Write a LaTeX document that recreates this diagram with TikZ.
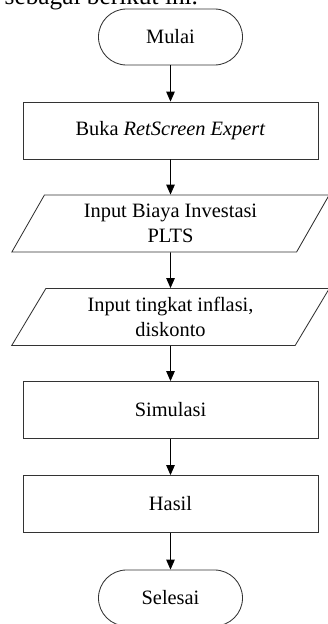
\documentclass[tikz,border=0pt]{standalone}
\usepackage{fontspec}
\setmainfont{Liberation Serif}
\usetikzlibrary{shapes.geometric,arrows.meta}
\tikzset{
  terminal/.style={draw=black!80,line width=0.6pt,rounded corners=0.7cm,
    minimum width=3.6cm,minimum height=1.4cm},
  proses/.style={draw=black!80,line width=0.6pt,
    minimum width=7.375cm,minimum height=1.425cm},
  masukan/.style={draw=black!80,line width=0.6pt,trapezium,
    trapezium left angle=64,trapezium right angle=116,trapezium stretches=true,
    minimum width=7.95cm,minimum height=1.425cm,align=center},
  panah/.style={-{Triangle[width=6pt,length=7pt]},line width=0.6pt}
}
\begin{document}
\begin{tikzpicture}[x=0.025cm,y=-0.025cm,font=\fontsize{14.5}{18}\selectfont]
\useasboundingbox (0,0) rectangle (328,624);
\node[anchor=base east,font=\fontsize{18}{22}\selectfont] (teks) at (203,5) {sebagai berikut ini.};
\node[terminal] (mulai) at (170.5,37) {Mulai};
\node[proses] (buka) at (170.5,130.5) {Buka \textit{RetScreen Expert}};
\node[masukan] (biaya) at (170.5,223.5) {Input Biaya Investasi\\PLTS};
\node[masukan] (inflasi) at (170.5,317) {Input tingkat inflasi,\\diskonto};
\node[proses] (simulasi) at (170.5,410) {Simulasi};
\node[proses] (hasil) at (170.5,504) {Hasil};
\node[terminal] (selesai) at (170.5,598) {Selesai};
\draw[panah] (mulai)--(buka);
\draw[panah] (buka)--(biaya);
\draw[panah] (biaya)--(inflasi);
\draw[panah] (inflasi)--(simulasi);
\draw[panah] (simulasi)--(hasil);
\draw[panah] (hasil)--(selesai);
\end{tikzpicture}
\end{document}
